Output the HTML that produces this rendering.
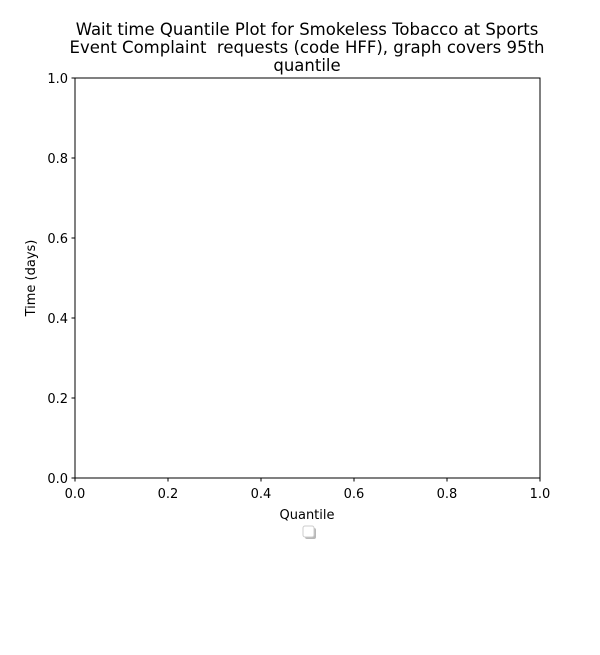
<!DOCTYPE html>
<html><head><meta charset="utf-8"><style>
body{margin:0;background:#fff;}
svg text{font-family:"DejaVu Sans","Liberation Sans",sans-serif;fill:#000;}
.pre{white-space:pre;}
</style></head><body>
<svg id="chart" width="600" height="650" xmlns="http://www.w3.org/2000/svg">
<rect width="600" height="650" fill="#fff"/>
<g font-size="16.5" text-anchor="middle">
<text class="pre" x="307" y="35">Wait time Quantile Plot for Smokeless Tobacco at Sports</text>
<text class="pre" x="307" y="53">Event Complaint  requests (code HFF), graph covers 95th</text>
<text class="pre" x="307" y="71">quantile</text>
</g>
<g id="xticks"></g>
<g id="yticks"></g>
<rect x="75" y="78" width="465" height="400" fill="none" stroke="#000" stroke-width="1"/>
<text x="307" y="519" font-size="13" text-anchor="middle">Quantile</text>
<text transform="translate(35,278) rotate(-90)" font-size="13" text-anchor="middle">Time (days)</text>
<g>
<rect x="305" y="528" width="11" height="11" rx="2" fill="#888" opacity="0.6"/>
<rect x="303" y="526" width="11" height="11" rx="2" fill="#fff" stroke="#ccc" stroke-width="1"/>
</g>
</svg>
<script>
const xTickValues=[0,0.2,0.4,0.6,0.8,1.0];
const yTickValues=[0,0.2,0.4,0.6,0.8,1.0];
const xTickLabels=["0.0","0.2","0.4","0.6","0.8","1.0"];
const yTickLabels=["0.0","0.2","0.4","0.6","0.8","1.0"];
const NS="http://www.w3.org/2000/svg";
function xs(v){return 75+v*465;}
function ys(v){return 478-v*400;}
const gx=document.getElementById('xticks'),gy=document.getElementById('yticks');
xTickValues.forEach((v,i)=>{
 const l=document.createElementNS(NS,'line');
 l.setAttribute('x1',xs(v));l.setAttribute('x2',xs(v));l.setAttribute('y1',478);l.setAttribute('y2',481.5);l.setAttribute('stroke','#000');
 
 
 gx.appendChild(l);
 const t=document.createElementNS(NS,'text');
 t.setAttribute('x',xs(v));t.setAttribute('y',498);t.setAttribute('font-size','13');t.setAttribute('text-anchor','middle');
 t.textContent=xTickLabels[i];
 
 
 gx.appendChild(t);
});
yTickValues.forEach((v,i)=>{
 const l=document.createElementNS(NS,'line');
 l.setAttribute('x1',71.5);l.setAttribute('x2',75);l.setAttribute('y1',ys(v));l.setAttribute('y2',ys(v));l.setAttribute('stroke','#000');
 
 
 gy.appendChild(l);
 const t=document.createElementNS(NS,'text');
 t.setAttribute('x',68);t.setAttribute('y',ys(v)+5);t.setAttribute('font-size','13');t.setAttribute('text-anchor','end');
 t.textContent=yTickLabels[i];
 
 
 gy.appendChild(t);
});
</script>
</body></html>
